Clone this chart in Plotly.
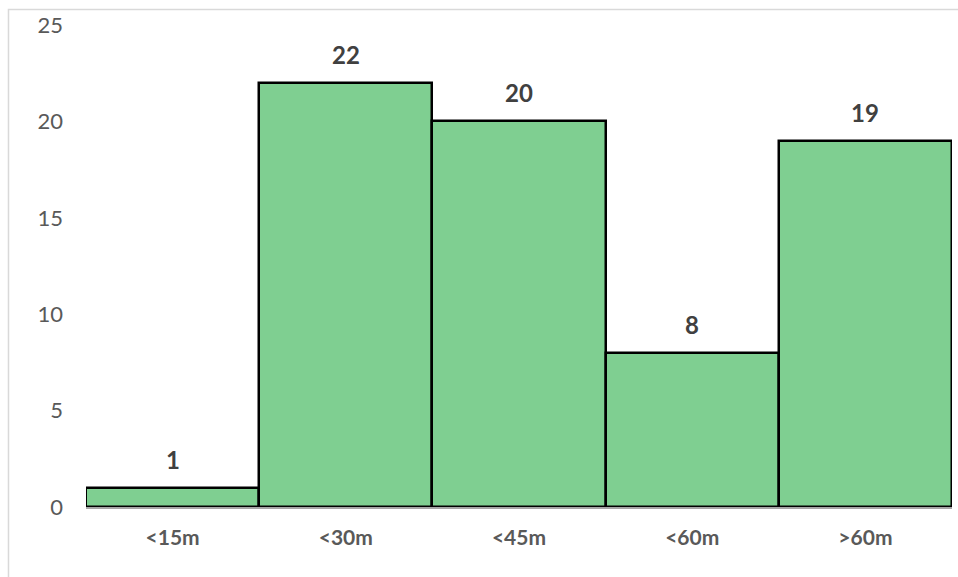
import plotly.graph_objects as go

categories = ["<15m", "<30m", "<45m", "<60m", ">60m"]
counts = [1, 22, 20, 8, 19]
y_ticks = [0, 5, 10, 15, 20, 25]

FONT = "Lato, Open Sans, Liberation Sans, sans-serif"

fig = go.Figure()
fig.add_trace(go.Bar(
    x=categories,
    y=counts,
    width=1.0,
    marker=dict(color="#7FCF91", line=dict(color="#000000", width=2.5)),
    hoverinfo="x+y",
))

# value labels above each bar
for cat, val in zip(categories, counts):
    fig.add_annotation(
        x=cat, y=val, text=f"<b>{val}</b>", showarrow=False,
        yanchor="bottom", yshift=12,
        font=dict(family=FONT, size=24, color="#404040"),
    )

# light chart-area frame
fig.add_shape(
    type="rect", xref="paper", yref="paper",
    x0=-0.0895, x1=1.02, y0=-0.3, y1=1.032,
    line=dict(color="#D9D9D9", width=1.5), fillcolor="rgba(0,0,0,0)", layer="below",
)

fig.update_layout(
    width=958, height=577,
    margin=dict(l=86, r=6, t=25, b=70),
    paper_bgcolor="white", plot_bgcolor="white",
    showlegend=False,
    bargap=0,
    font=dict(family=FONT, color="#595959"),
)
fig.update_xaxes(
    showgrid=False, showline=True, linecolor="#A6A6A6", linewidth=1.5,
    ticks="", tickfont=dict(family=FONT, size=21, color="#595959", weight="bold"),
    ticklabelstandoff=11,
)
fig.update_yaxes(
    range=[0, 25], tickvals=y_ticks, showgrid=False, zeroline=False,
    showline=False, ticks="", tickfont=dict(family=FONT, size=22, color="#595959"),
    ticklabelstandoff=22,
)

fig.write_html("out.html")
